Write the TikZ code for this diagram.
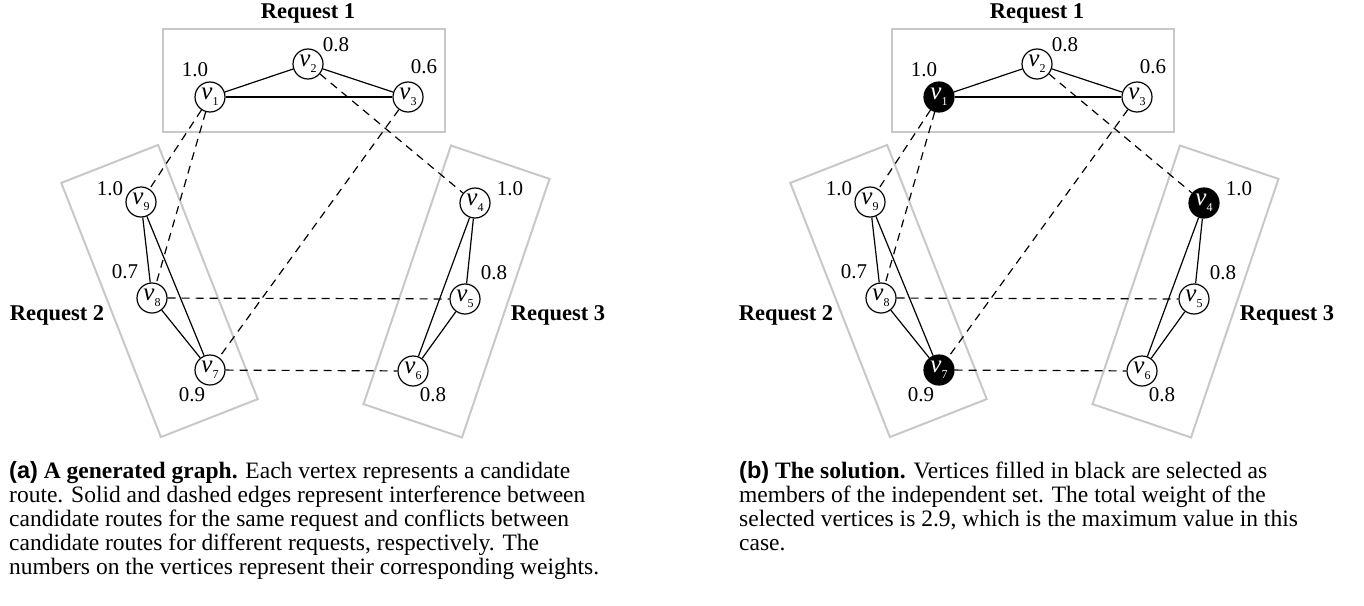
\documentclass[tikz,border=0pt]{standalone}
\usepackage{fontspec}
\setmainfont{Liberation Serif}
\newfontfamily\capsans{Liberation Sans}
\definecolor{boxgray}{RGB}{200,200,200}

\tikzset{
  vertex/.style={draw, circle, line width=1.2pt, minimum size=30pt, inner sep=0pt, fill=white},
  chosen/.style={vertex, fill=black, text=white},
  weight/.style={inner sep=0pt, font=\fontsize{21}{21}\selectfont},
  request/.style={inner sep=0pt, font=\fontsize{22.5}{22.5}\selectfont\bfseries},
  reqbox/.style={draw=boxgray, line width=2pt, inner sep=0pt},
  same/.style={line width=1.2pt},
  conflict/.style={line width=1.2pt, dash pattern=on 8pt off 6pt},
  caption/.style={align=left, anchor=north west, inner sep=0pt, font=\fontsize{23.5}{24}\selectfont}
}
\newcommand{\vlab}[1]{{\fontsize{25}{25}\selectfont\itshape v}\raisebox{-6pt}{\fontsize{12}{12}\selectfont #1}}

\begin{document}
\begin{tikzpicture}[x=1pt, y=-1pt]
    \useasboundingbox (0,0) rectangle (1364,605);

    % (a) Request boxes
    \node[reqbox, minimum width=282pt, minimum height=103pt] (r1) at (304,80.5) {};
    \node[reqbox, minimum width=104pt, minimum height=273pt, rotate=21.4] (r2) at (159.5,291) {};
    \node[reqbox, minimum width=104pt, minimum height=273pt, rotate=-18.7] (r3) at (456.5,291.5) {};
    \node[request] (l1) at (308,13) {Request 1};
    \node[request] (l2) at (57,315) {Request 2};
    \node[request] (l3) at (558,315) {Request 3};

    % (a) Vertices
    \node[vertex] (v1) at (210,97) {\vlab{1}};
    \node[vertex] (v2) at (308,64) {\vlab{2}};
    \node[vertex] (v3) at (408,97) {\vlab{3}};
    \node[vertex] (v4) at (475,203) {\vlab{4}};
    \node[vertex] (v5) at (465,299) {\vlab{5}};
    \node[vertex] (v6) at (413,371) {\vlab{6}};
    \node[vertex] (v7) at (210,370) {\vlab{7}};
    \node[vertex] (v8) at (152,298) {\vlab{8}};
    \node[vertex] (v9) at (141,202) {\vlab{9}};

    % (a) Weights
    \node[weight] (w1) at (195,70) {1.0};
    \node[weight] (w2) at (336,45) {0.8};
    \node[weight] (w3) at (424,67) {0.6};
    \node[weight] (w4) at (510,189) {1.0};
    \node[weight] (w5) at (494,273) {0.8};
    \node[weight] (w6) at (433,395) {0.8};
    \node[weight] (w7) at (192,395) {0.9};
    \node[weight] (w8) at (125,272) {0.7};
    \node[weight] (w9) at (110,189) {1.0};

    % (a) Edges within a request
    \draw[same] (v1) -- (v2);
    \draw[same] (v2) -- (v3);
    \draw[same] (v1) -- (v3);
    \draw[same] (v9) -- (v8);
    \draw[same] (v9) -- (v7);
    \draw[same] (v8) -- (v7);
    \draw[same] (v4) -- (v5);
    \draw[same] (v4) -- (v6);
    \draw[same] (v5) -- (v6);

    % (a) Conflicts between requests
    \draw[conflict] (v1) -- (v9);
    \draw[conflict] (v1) -- (v8);
    \draw[conflict] (v3) -- (v7);
    \draw[conflict] (v2) -- (v4);
    \draw[conflict] (v8) -- (v5);
    \draw[conflict] (v7) -- (v6);

    % (b) Request boxes
    \node[reqbox, minimum width=282pt, minimum height=103pt] (sr1) at (1033,80.5) {};
    \node[reqbox, minimum width=104pt, minimum height=273pt, rotate=21.4] (sr2) at (888.5,291) {};
    \node[reqbox, minimum width=104pt, minimum height=273pt, rotate=-18.7] (sr3) at (1185.5,291.5) {};
    \node[request] (sl1) at (1037,13) {Request 1};
    \node[request] (sl2) at (786,315) {Request 2};
    \node[request] (sl3) at (1287,315) {Request 3};

    % (b) Vertices
    \node[chosen] (s1) at (939,97) {\vlab{1}};
    \node[vertex] (s2) at (1037,64) {\vlab{2}};
    \node[vertex] (s3) at (1137,97) {\vlab{3}};
    \node[chosen] (s4) at (1204,203) {\vlab{4}};
    \node[vertex] (s5) at (1194,299) {\vlab{5}};
    \node[vertex] (s6) at (1142,371) {\vlab{6}};
    \node[chosen] (s7) at (939,370) {\vlab{7}};
    \node[vertex] (s8) at (881,298) {\vlab{8}};
    \node[vertex] (s9) at (870,202) {\vlab{9}};

    % (b) Weights
    \node[weight] (sw1) at (924,70) {1.0};
    \node[weight] (sw2) at (1065,45) {0.8};
    \node[weight] (sw3) at (1153,67) {0.6};
    \node[weight] (sw4) at (1239,189) {1.0};
    \node[weight] (sw5) at (1223,273) {0.8};
    \node[weight] (sw6) at (1162,395) {0.8};
    \node[weight] (sw7) at (921,395) {0.9};
    \node[weight] (sw8) at (854,272) {0.7};
    \node[weight] (sw9) at (839,189) {1.0};

    % (b) Edges within a request
    \draw[same] (s1) -- (s2);
    \draw[same] (s2) -- (s3);
    \draw[same] (s1) -- (s3);
    \draw[same] (s9) -- (s8);
    \draw[same] (s9) -- (s7);
    \draw[same] (s8) -- (s7);
    \draw[same] (s4) -- (s5);
    \draw[same] (s4) -- (s6);
    \draw[same] (s5) -- (s6);

    % (b) Conflicts between requests
    \draw[conflict] (s1) -- (s9);
    \draw[conflict] (s1) -- (s8);
    \draw[conflict] (s3) -- (s7);
    \draw[conflict] (s2) -- (s4);
    \draw[conflict] (s8) -- (s5);
    \draw[conflict] (s7) -- (s6);

    % Captions
    \node[caption] (capa) at (9,461) {{\capsans\bfseries (a)} \textbf{A generated graph.} Each vertex represents a candidate\\
      route. Solid and dashed edges represent interference between\\
      candidate routes for the same request and conflicts between\\
      candidate routes for different requests, respectively. The\\
      numbers on the vertices represent their corresponding weights.};
    \node[caption] (capb) at (739,461) {{\capsans\bfseries (b)} \textbf{The solution.} Vertices filled in black are selected as\\
      members of the independent set. The total weight of the\\
      selected vertices is 2.9, which is the maximum value in this\\
      case.};
\end{tikzpicture}
\end{document}
